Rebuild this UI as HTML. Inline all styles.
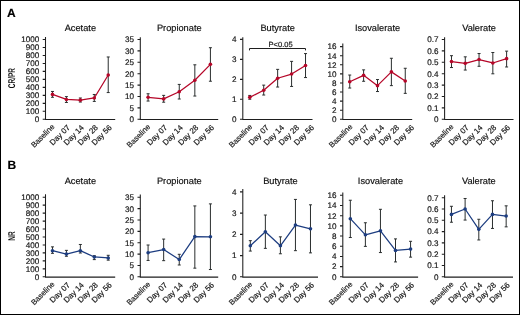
<!DOCTYPE html>
<html><head><meta charset="utf-8"><style>
html,body{margin:0;padding:0;background:#fff;}
#w{position:relative;width:520px;height:315px;overflow:hidden;background:#fff;}
svg{position:absolute;left:0;top:0;font-family:"Liberation Sans", sans-serif;will-change:transform;}
text{stroke:#111;stroke-width:0.18px;text-rendering:geometricPrecision;}
</style></head><body><div id="w">
<svg width="520" height="315" viewBox="0 0 520 315">
<rect x="0.5" y="0.5" width="519" height="314" fill="#fff" stroke="#000" stroke-width="1"/>
<text x="80.35" y="30.9" font-size="9.25" text-anchor="middle" fill="#111">Acetate</text>
<path d="M45.50 37.00V119.50H115.20" fill="none" stroke="#1e1e1e" stroke-width="1.05"/>
<text x="39.30" y="122.15" font-size="8.1" text-anchor="end" fill="#1a1a1a">0</text>
<text x="39.30" y="114.17" font-size="8.1" text-anchor="end" fill="#1a1a1a">100</text>
<text x="39.30" y="106.19" font-size="8.1" text-anchor="end" fill="#1a1a1a">200</text>
<text x="39.30" y="98.21" font-size="8.1" text-anchor="end" fill="#1a1a1a">300</text>
<text x="39.30" y="90.23" font-size="8.1" text-anchor="end" fill="#1a1a1a">400</text>
<text x="39.30" y="82.25" font-size="8.1" text-anchor="end" fill="#1a1a1a">500</text>
<text x="39.30" y="74.27" font-size="8.1" text-anchor="end" fill="#1a1a1a">600</text>
<text x="39.30" y="66.29" font-size="8.1" text-anchor="end" fill="#1a1a1a">700</text>
<text x="39.30" y="58.31" font-size="8.1" text-anchor="end" fill="#1a1a1a">800</text>
<text x="39.30" y="50.33" font-size="8.1" text-anchor="end" fill="#1a1a1a">900</text>
<text x="39.30" y="42.35" font-size="8.1" text-anchor="end" fill="#1a1a1a">1000</text>
<path d="M42.70 119.30H45.50M42.70 111.32H45.50M42.70 103.34H45.50M42.70 95.36H45.50M42.70 87.38H45.50M42.70 79.40H45.50M42.70 71.42H45.50M42.70 63.44H45.50M42.70 55.46H45.50M42.70 47.48H45.50M42.70 39.50H45.50" stroke="#1e1e1e" stroke-width="1.1"/>
<text x="55.07" y="127.20" font-size="7.7" text-anchor="end" fill="#1a1a1a" transform="rotate(-45 55.07 127.20)">Baseline</text>
<text x="70.51" y="128.10" font-size="7.9" text-anchor="end" fill="#1a1a1a" transform="rotate(-45 70.51 128.10)">Day 07</text>
<text x="84.45" y="128.10" font-size="7.9" text-anchor="end" fill="#1a1a1a" transform="rotate(-45 84.45 128.10)">Day 14</text>
<text x="98.39" y="128.10" font-size="7.9" text-anchor="end" fill="#1a1a1a" transform="rotate(-45 98.39 128.10)">Day 28</text>
<text x="112.33" y="128.10" font-size="7.9" text-anchor="end" fill="#1a1a1a" transform="rotate(-45 112.33 128.10)">Day 56</text>
<path d="M52.47 91.45V97.28M50.97 91.45H53.97M50.97 97.28H53.97M66.41 96.64V102.46M64.91 96.64H67.91M64.91 102.46H67.91M80.35 97.99V102.06M78.85 97.99H81.85M78.85 102.06H81.85M94.29 94.48V101.42M92.79 94.48H95.79M92.79 101.42H95.79M108.23 56.98V92.57M106.73 56.98H109.73M106.73 92.57H109.73" stroke="#2a2e2e" stroke-width="1" fill="none"/>
<polyline points="52.47,94.40 66.41,99.43 80.35,100.15 94.29,97.99 108.23,75.01" fill="none" stroke="#b50628" stroke-width="1.25" stroke-linejoin="round"/>
<circle cx="52.47" cy="94.40" r="1.8" fill="#b50628"/>
<circle cx="66.41" cy="99.43" r="1.8" fill="#b50628"/>
<circle cx="80.35" cy="100.15" r="1.8" fill="#b50628"/>
<circle cx="94.29" cy="97.99" r="1.8" fill="#b50628"/>
<circle cx="108.23" cy="75.01" r="1.8" fill="#b50628"/>
<text x="179.25" y="30.9" font-size="9.25" text-anchor="middle" fill="#111">Propionate</text>
<path d="M140.30 37.20V119.50H218.20" fill="none" stroke="#1e1e1e" stroke-width="1.05"/>
<text x="134.10" y="122.15" font-size="8.1" text-anchor="end" fill="#1a1a1a">0</text>
<text x="134.10" y="110.75" font-size="8.1" text-anchor="end" fill="#1a1a1a">5</text>
<text x="134.10" y="99.35" font-size="8.1" text-anchor="end" fill="#1a1a1a">10</text>
<text x="134.10" y="87.95" font-size="8.1" text-anchor="end" fill="#1a1a1a">15</text>
<text x="134.10" y="76.55" font-size="8.1" text-anchor="end" fill="#1a1a1a">20</text>
<text x="134.10" y="65.15" font-size="8.1" text-anchor="end" fill="#1a1a1a">25</text>
<text x="134.10" y="53.75" font-size="8.1" text-anchor="end" fill="#1a1a1a">30</text>
<text x="134.10" y="42.35" font-size="8.1" text-anchor="end" fill="#1a1a1a">35</text>
<path d="M137.50 119.30H140.30M137.50 107.90H140.30M137.50 96.50H140.30M137.50 85.10H140.30M137.50 73.70H140.30M137.50 62.30H140.30M137.50 50.90H140.30M137.50 39.50H140.30" stroke="#1e1e1e" stroke-width="1.1"/>
<text x="150.69" y="127.20" font-size="7.7" text-anchor="end" fill="#1a1a1a" transform="rotate(-45 150.69 127.20)">Baseline</text>
<text x="167.77" y="128.10" font-size="7.9" text-anchor="end" fill="#1a1a1a" transform="rotate(-45 167.77 128.10)">Day 07</text>
<text x="183.35" y="128.10" font-size="7.9" text-anchor="end" fill="#1a1a1a" transform="rotate(-45 183.35 128.10)">Day 14</text>
<text x="198.93" y="128.10" font-size="7.9" text-anchor="end" fill="#1a1a1a" transform="rotate(-45 198.93 128.10)">Day 28</text>
<text x="214.51" y="128.10" font-size="7.9" text-anchor="end" fill="#1a1a1a" transform="rotate(-45 214.51 128.10)">Day 56</text>
<path d="M148.09 93.76V101.06M146.59 93.76H149.59M146.59 101.06H149.59M163.67 95.36V102.20M162.17 95.36H165.17M162.17 102.20H165.17M179.25 84.42V99.01M177.75 84.42H180.75M177.75 99.01H180.75M194.83 64.81V96.04M193.33 64.81H196.33M193.33 96.04H196.33M210.41 47.71V81.22M208.91 47.71H211.91M208.91 81.22H211.91" stroke="#2a2e2e" stroke-width="1" fill="none"/>
<polyline points="148.09,97.30 163.67,98.89 179.25,91.71 194.83,80.31 210.41,64.35" fill="none" stroke="#b50628" stroke-width="1.25" stroke-linejoin="round"/>
<circle cx="148.09" cy="97.30" r="1.8" fill="#b50628"/>
<circle cx="163.67" cy="98.89" r="1.8" fill="#b50628"/>
<circle cx="179.25" cy="91.71" r="1.8" fill="#b50628"/>
<circle cx="194.83" cy="80.31" r="1.8" fill="#b50628"/>
<circle cx="210.41" cy="64.35" r="1.8" fill="#b50628"/>
<text x="277.65" y="30.9" font-size="9.25" text-anchor="middle" fill="#111">Butyrate</text>
<path d="M242.80 37.20V119.50H312.50" fill="none" stroke="#1e1e1e" stroke-width="1.05"/>
<text x="236.60" y="122.15" font-size="8.1" text-anchor="end" fill="#1a1a1a">0</text>
<text x="236.60" y="102.17" font-size="8.1" text-anchor="end" fill="#1a1a1a">1</text>
<text x="236.60" y="82.20" font-size="8.1" text-anchor="end" fill="#1a1a1a">2</text>
<text x="236.60" y="62.22" font-size="8.1" text-anchor="end" fill="#1a1a1a">3</text>
<text x="236.60" y="42.25" font-size="8.1" text-anchor="end" fill="#1a1a1a">4</text>
<path d="M240.00 119.30H242.80M240.00 99.32H242.80M240.00 79.35H242.80M240.00 59.37H242.80M240.00 39.40H242.80" stroke="#1e1e1e" stroke-width="1.1"/>
<text x="252.92" y="127.20" font-size="7.7" text-anchor="end" fill="#1a1a1a" transform="rotate(-45 252.92 127.20)">Baseline</text>
<text x="269.46" y="128.10" font-size="7.9" text-anchor="end" fill="#1a1a1a" transform="rotate(-45 269.46 128.10)">Day 07</text>
<text x="284.50" y="128.10" font-size="7.9" text-anchor="end" fill="#1a1a1a" transform="rotate(-45 284.50 128.10)">Day 14</text>
<text x="299.54" y="128.10" font-size="7.9" text-anchor="end" fill="#1a1a1a" transform="rotate(-45 299.54 128.10)">Day 28</text>
<text x="314.58" y="128.10" font-size="7.9" text-anchor="end" fill="#1a1a1a" transform="rotate(-45 314.58 128.10)">Day 56</text>
<path d="M249.77 95.43V99.23M248.27 95.43H251.27M248.27 99.23H251.27M263.71 85.14V95.03M262.21 85.14H265.21M262.21 95.03H265.21M277.65 69.36V87.04M276.15 69.36H279.15M276.15 87.04H279.15M291.59 61.37V86.44M290.09 61.37H293.09M290.09 86.44H293.09M305.53 53.58V77.55M304.03 53.58H307.03M304.03 77.55H307.03" stroke="#2a2e2e" stroke-width="1" fill="none"/>
<polyline points="249.77,97.33 263.71,90.24 277.65,78.25 291.59,74.06 305.53,65.57" fill="none" stroke="#b50628" stroke-width="1.25" stroke-linejoin="round"/>
<circle cx="249.77" cy="97.33" r="1.8" fill="#b50628"/>
<circle cx="263.71" cy="90.24" r="1.8" fill="#b50628"/>
<circle cx="277.65" cy="78.25" r="1.8" fill="#b50628"/>
<circle cx="291.59" cy="74.06" r="1.8" fill="#b50628"/>
<circle cx="305.53" cy="65.57" r="1.8" fill="#b50628"/>
<text x="377.50" y="30.9" font-size="9.25" text-anchor="middle" fill="#111">Isovalerate</text>
<path d="M342.80 43.40V119.50H412.20" fill="none" stroke="#1e1e1e" stroke-width="1.05"/>
<text x="336.60" y="122.15" font-size="8.1" text-anchor="end" fill="#1a1a1a">0</text>
<text x="336.60" y="113.06" font-size="8.1" text-anchor="end" fill="#1a1a1a">2</text>
<text x="336.60" y="103.97" font-size="8.1" text-anchor="end" fill="#1a1a1a">4</text>
<text x="336.60" y="94.89" font-size="8.1" text-anchor="end" fill="#1a1a1a">6</text>
<text x="336.60" y="85.80" font-size="8.1" text-anchor="end" fill="#1a1a1a">8</text>
<text x="336.60" y="76.71" font-size="8.1" text-anchor="end" fill="#1a1a1a">10</text>
<text x="336.60" y="67.62" font-size="8.1" text-anchor="end" fill="#1a1a1a">12</text>
<text x="336.60" y="58.54" font-size="8.1" text-anchor="end" fill="#1a1a1a">14</text>
<text x="336.60" y="49.45" font-size="8.1" text-anchor="end" fill="#1a1a1a">16</text>
<path d="M340.00 119.30H342.80M340.00 110.21H342.80M340.00 101.12H342.80M340.00 92.04H342.80M340.00 82.95H342.80M340.00 73.86H342.80M340.00 64.78H342.80M340.00 55.69H342.80M340.00 46.60H342.80" stroke="#1e1e1e" stroke-width="1.1"/>
<text x="352.93" y="127.20" font-size="7.7" text-anchor="end" fill="#1a1a1a" transform="rotate(-45 352.93 127.20)">Baseline</text>
<text x="369.49" y="128.10" font-size="7.9" text-anchor="end" fill="#1a1a1a" transform="rotate(-45 369.49 128.10)">Day 07</text>
<text x="384.55" y="128.10" font-size="7.9" text-anchor="end" fill="#1a1a1a" transform="rotate(-45 384.55 128.10)">Day 14</text>
<text x="399.61" y="128.10" font-size="7.9" text-anchor="end" fill="#1a1a1a" transform="rotate(-45 399.61 128.10)">Day 28</text>
<text x="414.67" y="128.10" font-size="7.9" text-anchor="end" fill="#1a1a1a" transform="rotate(-45 414.67 128.10)">Day 56</text>
<path d="M349.74 75.04V88.04M348.24 75.04H351.24M348.24 88.04H351.24M363.62 69.86V81.27M362.12 69.86H365.12M362.12 81.27H365.12M377.50 79.54V91.54M376.00 79.54H379.00M376.00 91.54H379.00M391.38 58.28V85.63M389.88 58.28H392.88M389.88 85.63H392.88M405.26 68.27V93.36M403.76 68.27H406.76M403.76 93.36H406.76" stroke="#2a2e2e" stroke-width="1" fill="none"/>
<polyline points="349.74,81.77 363.62,75.36 377.50,85.63 391.38,71.86 405.26,80.95" fill="none" stroke="#b50628" stroke-width="1.25" stroke-linejoin="round"/>
<circle cx="349.74" cy="81.77" r="1.8" fill="#b50628"/>
<circle cx="363.62" cy="75.36" r="1.8" fill="#b50628"/>
<circle cx="377.50" cy="85.63" r="1.8" fill="#b50628"/>
<circle cx="391.38" cy="71.86" r="1.8" fill="#b50628"/>
<circle cx="405.26" cy="80.95" r="1.8" fill="#b50628"/>
<text x="479.05" y="30.9" font-size="9.25" text-anchor="middle" fill="#111">Valerate</text>
<path d="M444.60 37.30V119.50H513.50" fill="none" stroke="#1e1e1e" stroke-width="1.05"/>
<text x="438.40" y="122.15" font-size="8.1" text-anchor="end" fill="#1a1a1a">0</text>
<text x="438.40" y="110.75" font-size="8.1" text-anchor="end" fill="#1a1a1a">0.1</text>
<text x="438.40" y="99.35" font-size="8.1" text-anchor="end" fill="#1a1a1a">0.2</text>
<text x="438.40" y="87.95" font-size="8.1" text-anchor="end" fill="#1a1a1a">0.3</text>
<text x="438.40" y="76.55" font-size="8.1" text-anchor="end" fill="#1a1a1a">0.4</text>
<text x="438.40" y="65.15" font-size="8.1" text-anchor="end" fill="#1a1a1a">0.5</text>
<text x="438.40" y="53.75" font-size="8.1" text-anchor="end" fill="#1a1a1a">0.6</text>
<text x="438.40" y="42.35" font-size="8.1" text-anchor="end" fill="#1a1a1a">0.7</text>
<path d="M441.80 119.30H444.60M441.80 107.90H444.60M441.80 96.50H444.60M441.80 85.10H444.60M441.80 73.70H444.60M441.80 62.30H444.60M441.80 50.90H444.60M441.80 39.50H444.60" stroke="#1e1e1e" stroke-width="1.1"/>
<text x="454.09" y="127.20" font-size="7.7" text-anchor="end" fill="#1a1a1a" transform="rotate(-45 454.09 127.20)">Baseline</text>
<text x="469.37" y="128.10" font-size="7.9" text-anchor="end" fill="#1a1a1a" transform="rotate(-45 469.37 128.10)">Day 07</text>
<text x="483.15" y="128.10" font-size="7.9" text-anchor="end" fill="#1a1a1a" transform="rotate(-45 483.15 128.10)">Day 14</text>
<text x="496.93" y="128.10" font-size="7.9" text-anchor="end" fill="#1a1a1a" transform="rotate(-45 496.93 128.10)">Day 28</text>
<text x="510.71" y="128.10" font-size="7.9" text-anchor="end" fill="#1a1a1a" transform="rotate(-45 510.71 128.10)">Day 56</text>
<path d="M451.49 55.69V67.54M449.99 55.69H452.99M449.99 67.54H452.99M465.27 56.83V70.05M463.77 56.83H466.77M463.77 70.05H466.77M479.05 53.52V66.29M477.55 53.52H480.55M477.55 66.29H480.55M492.83 52.50V73.81M491.33 52.50H494.33M491.33 73.81H494.33M506.61 51.13V66.97M505.11 51.13H508.11M505.11 66.97H508.11" stroke="#2a2e2e" stroke-width="1" fill="none"/>
<polyline points="451.49,61.62 465.27,63.33 479.05,59.56 492.83,62.98 506.61,58.65" fill="none" stroke="#b50628" stroke-width="1.25" stroke-linejoin="round"/>
<circle cx="451.49" cy="61.62" r="1.8" fill="#b50628"/>
<circle cx="465.27" cy="63.33" r="1.8" fill="#b50628"/>
<circle cx="479.05" cy="59.56" r="1.8" fill="#b50628"/>
<circle cx="492.83" cy="62.98" r="1.8" fill="#b50628"/>
<circle cx="506.61" cy="58.65" r="1.8" fill="#b50628"/>
<text x="80.35" y="183.8" font-size="9.25" text-anchor="middle" fill="#111">Acetate</text>
<path d="M45.50 194.30V277.10H115.20" fill="none" stroke="#1e1e1e" stroke-width="1.05"/>
<text x="39.30" y="279.65" font-size="8.1" text-anchor="end" fill="#1a1a1a">0</text>
<text x="39.30" y="271.69" font-size="8.1" text-anchor="end" fill="#1a1a1a">100</text>
<text x="39.30" y="263.73" font-size="8.1" text-anchor="end" fill="#1a1a1a">200</text>
<text x="39.30" y="255.77" font-size="8.1" text-anchor="end" fill="#1a1a1a">300</text>
<text x="39.30" y="247.81" font-size="8.1" text-anchor="end" fill="#1a1a1a">400</text>
<text x="39.30" y="239.85" font-size="8.1" text-anchor="end" fill="#1a1a1a">500</text>
<text x="39.30" y="231.89" font-size="8.1" text-anchor="end" fill="#1a1a1a">600</text>
<text x="39.30" y="223.93" font-size="8.1" text-anchor="end" fill="#1a1a1a">700</text>
<text x="39.30" y="215.97" font-size="8.1" text-anchor="end" fill="#1a1a1a">800</text>
<text x="39.30" y="208.01" font-size="8.1" text-anchor="end" fill="#1a1a1a">900</text>
<text x="39.30" y="200.05" font-size="8.1" text-anchor="end" fill="#1a1a1a">1000</text>
<path d="M42.70 276.80H45.50M42.70 268.84H45.50M42.70 260.88H45.50M42.70 252.92H45.50M42.70 244.96H45.50M42.70 237.00H45.50M42.70 229.04H45.50M42.70 221.08H45.50M42.70 213.12H45.50M42.70 205.16H45.50M42.70 197.20H45.50" stroke="#1e1e1e" stroke-width="1.1"/>
<text x="55.07" y="284.70" font-size="7.7" text-anchor="end" fill="#1a1a1a" transform="rotate(-45 55.07 284.70)">Baseline</text>
<text x="70.51" y="285.60" font-size="7.9" text-anchor="end" fill="#1a1a1a" transform="rotate(-45 70.51 285.60)">Day 07</text>
<text x="84.45" y="285.60" font-size="7.9" text-anchor="end" fill="#1a1a1a" transform="rotate(-45 84.45 285.60)">Day 14</text>
<text x="98.39" y="285.60" font-size="7.9" text-anchor="end" fill="#1a1a1a" transform="rotate(-45 98.39 285.60)">Day 28</text>
<text x="112.33" y="285.60" font-size="7.9" text-anchor="end" fill="#1a1a1a" transform="rotate(-45 112.33 285.60)">Day 56</text>
<path d="M52.47 246.87V253.32M50.97 246.87H53.97M50.97 253.32H53.97M66.41 250.37V256.26M64.91 250.37H67.91M64.91 256.26H67.91M80.35 244.48V253.00M78.85 244.48H81.85M78.85 253.00H81.85M94.29 255.71V259.61M92.79 255.71H95.79M92.79 259.61H95.79M108.23 255.31V260.16M106.73 255.31H109.73M106.73 260.16H109.73" stroke="#2a2e2e" stroke-width="1" fill="none"/>
<polyline points="52.47,250.69 66.41,254.11 80.35,250.69 94.29,256.98 108.23,257.93" fill="none" stroke="#1d3d80" stroke-width="1.25" stroke-linejoin="round"/>
<circle cx="52.47" cy="250.69" r="1.8" fill="#1d3d80"/>
<circle cx="66.41" cy="254.11" r="1.8" fill="#1d3d80"/>
<circle cx="80.35" cy="250.69" r="1.8" fill="#1d3d80"/>
<circle cx="94.29" cy="256.98" r="1.8" fill="#1d3d80"/>
<circle cx="108.23" cy="257.93" r="1.8" fill="#1d3d80"/>
<text x="179.25" y="183.8" font-size="9.25" text-anchor="middle" fill="#111">Propionate</text>
<path d="M140.30 194.50V277.10H218.20" fill="none" stroke="#1e1e1e" stroke-width="1.05"/>
<text x="134.10" y="279.65" font-size="8.1" text-anchor="end" fill="#1a1a1a">0</text>
<text x="134.10" y="268.29" font-size="8.1" text-anchor="end" fill="#1a1a1a">5</text>
<text x="134.10" y="256.94" font-size="8.1" text-anchor="end" fill="#1a1a1a">10</text>
<text x="134.10" y="245.58" font-size="8.1" text-anchor="end" fill="#1a1a1a">15</text>
<text x="134.10" y="234.22" font-size="8.1" text-anchor="end" fill="#1a1a1a">20</text>
<text x="134.10" y="222.86" font-size="8.1" text-anchor="end" fill="#1a1a1a">25</text>
<text x="134.10" y="211.51" font-size="8.1" text-anchor="end" fill="#1a1a1a">30</text>
<text x="134.10" y="200.15" font-size="8.1" text-anchor="end" fill="#1a1a1a">35</text>
<path d="M137.50 276.80H140.30M137.50 265.44H140.30M137.50 254.09H140.30M137.50 242.73H140.30M137.50 231.37H140.30M137.50 220.01H140.30M137.50 208.66H140.30M137.50 197.30H140.30" stroke="#1e1e1e" stroke-width="1.1"/>
<text x="150.69" y="284.70" font-size="7.7" text-anchor="end" fill="#1a1a1a" transform="rotate(-45 150.69 284.70)">Baseline</text>
<text x="167.77" y="285.60" font-size="7.9" text-anchor="end" fill="#1a1a1a" transform="rotate(-45 167.77 285.60)">Day 07</text>
<text x="183.35" y="285.60" font-size="7.9" text-anchor="end" fill="#1a1a1a" transform="rotate(-45 183.35 285.60)">Day 14</text>
<text x="198.93" y="285.60" font-size="7.9" text-anchor="end" fill="#1a1a1a" transform="rotate(-45 198.93 285.60)">Day 28</text>
<text x="214.51" y="285.60" font-size="7.9" text-anchor="end" fill="#1a1a1a" transform="rotate(-45 214.51 285.60)">Day 56</text>
<path d="M148.09 245.00V260.45M146.59 245.00H149.59M146.59 260.45H149.59M163.67 239.09V260.67M162.17 239.09H165.17M162.17 260.67H165.17M179.25 254.31V264.99M177.75 254.31H180.75M177.75 264.99H180.75M194.83 205.93V268.17M193.33 205.93H196.33M193.33 268.17H196.33M210.41 203.89V269.53M208.91 203.89H211.91M208.91 269.53H211.91" stroke="#2a2e2e" stroke-width="1" fill="none"/>
<polyline points="148.09,252.72 163.67,249.54 179.25,259.54 194.83,236.60 210.41,236.82" fill="none" stroke="#1d3d80" stroke-width="1.25" stroke-linejoin="round"/>
<circle cx="148.09" cy="252.72" r="1.8" fill="#1d3d80"/>
<circle cx="163.67" cy="249.54" r="1.8" fill="#1d3d80"/>
<circle cx="179.25" cy="259.54" r="1.8" fill="#1d3d80"/>
<circle cx="194.83" cy="236.60" r="1.8" fill="#1d3d80"/>
<circle cx="210.41" cy="236.82" r="1.8" fill="#1d3d80"/>
<text x="280.40" y="183.8" font-size="9.25" text-anchor="middle" fill="#111">Butyrate</text>
<path d="M242.80 189.10V277.10H318.00" fill="none" stroke="#1e1e1e" stroke-width="1.05"/>
<text x="236.60" y="279.65" font-size="8.1" text-anchor="end" fill="#1a1a1a">0</text>
<text x="236.60" y="258.43" font-size="8.1" text-anchor="end" fill="#1a1a1a">1</text>
<text x="236.60" y="237.20" font-size="8.1" text-anchor="end" fill="#1a1a1a">2</text>
<text x="236.60" y="215.97" font-size="8.1" text-anchor="end" fill="#1a1a1a">3</text>
<text x="236.60" y="194.75" font-size="8.1" text-anchor="end" fill="#1a1a1a">4</text>
<path d="M240.00 276.80H242.80M240.00 255.58H242.80M240.00 234.35H242.80M240.00 213.12H242.80M240.00 191.90H242.80" stroke="#1e1e1e" stroke-width="1.1"/>
<text x="252.92" y="284.70" font-size="7.7" text-anchor="end" fill="#1a1a1a" transform="rotate(-45 252.92 284.70)">Baseline</text>
<text x="269.46" y="285.60" font-size="7.9" text-anchor="end" fill="#1a1a1a" transform="rotate(-45 269.46 285.60)">Day 07</text>
<text x="284.50" y="285.60" font-size="7.9" text-anchor="end" fill="#1a1a1a" transform="rotate(-45 284.50 285.60)">Day 14</text>
<text x="299.54" y="285.60" font-size="7.9" text-anchor="end" fill="#1a1a1a" transform="rotate(-45 299.54 285.60)">Day 28</text>
<text x="314.58" y="285.60" font-size="7.9" text-anchor="end" fill="#1a1a1a" transform="rotate(-45 314.58 285.60)">Day 56</text>
<path d="M250.32 240.66V251.07M248.82 240.66H251.82M248.82 251.07H251.82M265.36 215.03V248.37M263.86 215.03H266.86M263.86 248.37H266.86M280.40 236.85V253.77M278.90 236.85H281.90M278.90 253.77H281.90M295.44 199.41V250.67M293.94 199.41H296.94M293.94 250.67H296.94M310.48 204.82V252.87M308.98 204.82H311.98M308.98 252.87H311.98" stroke="#2a2e2e" stroke-width="1" fill="none"/>
<polyline points="250.32,245.76 265.36,231.75 280.40,245.76 295.44,225.04 310.48,228.84" fill="none" stroke="#1d3d80" stroke-width="1.25" stroke-linejoin="round"/>
<circle cx="250.32" cy="245.76" r="1.8" fill="#1d3d80"/>
<circle cx="265.36" cy="231.75" r="1.8" fill="#1d3d80"/>
<circle cx="280.40" cy="245.76" r="1.8" fill="#1d3d80"/>
<circle cx="295.44" cy="225.04" r="1.8" fill="#1d3d80"/>
<circle cx="310.48" cy="228.84" r="1.8" fill="#1d3d80"/>
<text x="380.45" y="183.8" font-size="9.25" text-anchor="middle" fill="#111">Isovalerate</text>
<path d="M342.80 192.60V277.10H418.10" fill="none" stroke="#1e1e1e" stroke-width="1.05"/>
<text x="336.60" y="279.65" font-size="8.1" text-anchor="end" fill="#1a1a1a">0</text>
<text x="336.60" y="269.46" font-size="8.1" text-anchor="end" fill="#1a1a1a">2</text>
<text x="336.60" y="259.28" font-size="8.1" text-anchor="end" fill="#1a1a1a">4</text>
<text x="336.60" y="249.09" font-size="8.1" text-anchor="end" fill="#1a1a1a">6</text>
<text x="336.60" y="238.90" font-size="8.1" text-anchor="end" fill="#1a1a1a">8</text>
<text x="336.60" y="228.71" font-size="8.1" text-anchor="end" fill="#1a1a1a">10</text>
<text x="336.60" y="218.53" font-size="8.1" text-anchor="end" fill="#1a1a1a">12</text>
<text x="336.60" y="208.34" font-size="8.1" text-anchor="end" fill="#1a1a1a">14</text>
<text x="336.60" y="198.15" font-size="8.1" text-anchor="end" fill="#1a1a1a">16</text>
<path d="M340.00 276.80H342.80M340.00 266.61H342.80M340.00 256.43H342.80M340.00 246.24H342.80M340.00 236.05H342.80M340.00 225.86H342.80M340.00 215.68H342.80M340.00 205.49H342.80M340.00 195.30H342.80" stroke="#1e1e1e" stroke-width="1.1"/>
<text x="352.93" y="284.70" font-size="7.7" text-anchor="end" fill="#1a1a1a" transform="rotate(-45 352.93 284.70)">Baseline</text>
<text x="369.49" y="285.60" font-size="7.9" text-anchor="end" fill="#1a1a1a" transform="rotate(-45 369.49 285.60)">Day 07</text>
<text x="384.55" y="285.60" font-size="7.9" text-anchor="end" fill="#1a1a1a" transform="rotate(-45 384.55 285.60)">Day 14</text>
<text x="399.61" y="285.60" font-size="7.9" text-anchor="end" fill="#1a1a1a" transform="rotate(-45 399.61 285.60)">Day 28</text>
<text x="414.67" y="285.60" font-size="7.9" text-anchor="end" fill="#1a1a1a" transform="rotate(-45 414.67 285.60)">Day 56</text>
<path d="M350.33 200.24V237.53M348.83 200.24H351.83M348.83 237.53H351.83M365.39 222.76V246.39M363.89 222.76H366.89M363.89 246.39H366.89M380.45 209.31V252.55M378.95 209.31H381.95M378.95 252.55H381.95M395.51 238.90V261.93M394.01 238.90H397.01M394.01 261.93H397.01M410.57 241.30V257.14M409.07 241.30H412.07M409.07 257.14H412.07" stroke="#2a2e2e" stroke-width="1" fill="none"/>
<polyline points="350.33,218.68 365.39,234.83 380.45,230.85 395.51,250.47 410.57,249.09" fill="none" stroke="#1d3d80" stroke-width="1.25" stroke-linejoin="round"/>
<circle cx="350.33" cy="218.68" r="1.8" fill="#1d3d80"/>
<circle cx="365.39" cy="234.83" r="1.8" fill="#1d3d80"/>
<circle cx="380.45" cy="230.85" r="1.8" fill="#1d3d80"/>
<circle cx="395.51" cy="250.47" r="1.8" fill="#1d3d80"/>
<circle cx="410.57" cy="249.09" r="1.8" fill="#1d3d80"/>
<text x="478.80" y="183.8" font-size="9.25" text-anchor="middle" fill="#111">Valerate</text>
<path d="M444.60 195.30V277.10H513.00" fill="none" stroke="#1e1e1e" stroke-width="1.05"/>
<text x="438.40" y="279.65" font-size="8.1" text-anchor="end" fill="#1a1a1a">0</text>
<text x="438.40" y="268.35" font-size="8.1" text-anchor="end" fill="#1a1a1a">0.1</text>
<text x="438.40" y="257.05" font-size="8.1" text-anchor="end" fill="#1a1a1a">0.2</text>
<text x="438.40" y="245.75" font-size="8.1" text-anchor="end" fill="#1a1a1a">0.3</text>
<text x="438.40" y="234.45" font-size="8.1" text-anchor="end" fill="#1a1a1a">0.4</text>
<text x="438.40" y="223.15" font-size="8.1" text-anchor="end" fill="#1a1a1a">0.5</text>
<text x="438.40" y="211.85" font-size="8.1" text-anchor="end" fill="#1a1a1a">0.6</text>
<text x="438.40" y="200.55" font-size="8.1" text-anchor="end" fill="#1a1a1a">0.7</text>
<path d="M441.80 276.80H444.60M441.80 265.50H444.60M441.80 254.20H444.60M441.80 242.90H444.60M441.80 231.60H444.60M441.80 220.30H444.60M441.80 209.00H444.60M441.80 197.70H444.60" stroke="#1e1e1e" stroke-width="1.1"/>
<text x="454.04" y="284.70" font-size="7.7" text-anchor="end" fill="#1a1a1a" transform="rotate(-45 454.04 284.70)">Baseline</text>
<text x="469.22" y="285.60" font-size="7.9" text-anchor="end" fill="#1a1a1a" transform="rotate(-45 469.22 285.60)">Day 07</text>
<text x="482.90" y="285.60" font-size="7.9" text-anchor="end" fill="#1a1a1a" transform="rotate(-45 482.90 285.60)">Day 14</text>
<text x="496.58" y="285.60" font-size="7.9" text-anchor="end" fill="#1a1a1a" transform="rotate(-45 496.58 285.60)">Day 28</text>
<text x="510.26" y="285.60" font-size="7.9" text-anchor="end" fill="#1a1a1a" transform="rotate(-45 510.26 285.60)">Day 56</text>
<path d="M451.44 206.29V222.22M449.94 206.29H452.94M449.94 222.22H452.94M465.12 198.49V220.07M463.62 198.49H466.62M463.62 220.07H466.62M478.80 219.28V239.96M477.30 219.28H480.30M477.30 239.96H480.30M492.48 200.75V228.44M490.98 200.75H493.98M490.98 228.44H493.98M506.16 205.84V226.85M504.66 205.84H507.66M504.66 226.85H507.66" stroke="#2a2e2e" stroke-width="1" fill="none"/>
<polyline points="451.44,214.42 465.12,209.00 478.80,229.34 492.48,214.42 506.16,216.01" fill="none" stroke="#1d3d80" stroke-width="1.25" stroke-linejoin="round"/>
<circle cx="451.44" cy="214.42" r="1.8" fill="#1d3d80"/>
<circle cx="465.12" cy="209.00" r="1.8" fill="#1d3d80"/>
<circle cx="478.80" cy="229.34" r="1.8" fill="#1d3d80"/>
<circle cx="492.48" cy="214.42" r="1.8" fill="#1d3d80"/>
<circle cx="506.16" cy="216.01" r="1.8" fill="#1d3d80"/>
<path d="M249.5 50.4V48.5H305.5V50.4" fill="none" stroke="#1e1e1e" stroke-width="1"/>
<text x="280.6" y="47.1" font-size="7.5" text-anchor="middle" fill="#1a1a1a">P&lt;0.05</text>
<text x="7" y="17.4" font-size="12" font-weight="bold" fill="#000">A</text>
<text x="7.4" y="168.8" font-size="12" font-weight="bold" fill="#000">B</text>
<g transform="translate(15.1 78.1) rotate(-90) scale(0.665 1)"><text x="0" y="0" style="stroke:none" font-size="9.8" font-weight="bold" text-anchor="middle" fill="#111">CR/PR</text></g>
<g transform="translate(15.1 236) rotate(-90) scale(0.665 1)"><text x="0" y="0" style="stroke:none" font-size="9.8" font-weight="bold" text-anchor="middle" fill="#111">NR</text></g>
</svg></div></body></html>
